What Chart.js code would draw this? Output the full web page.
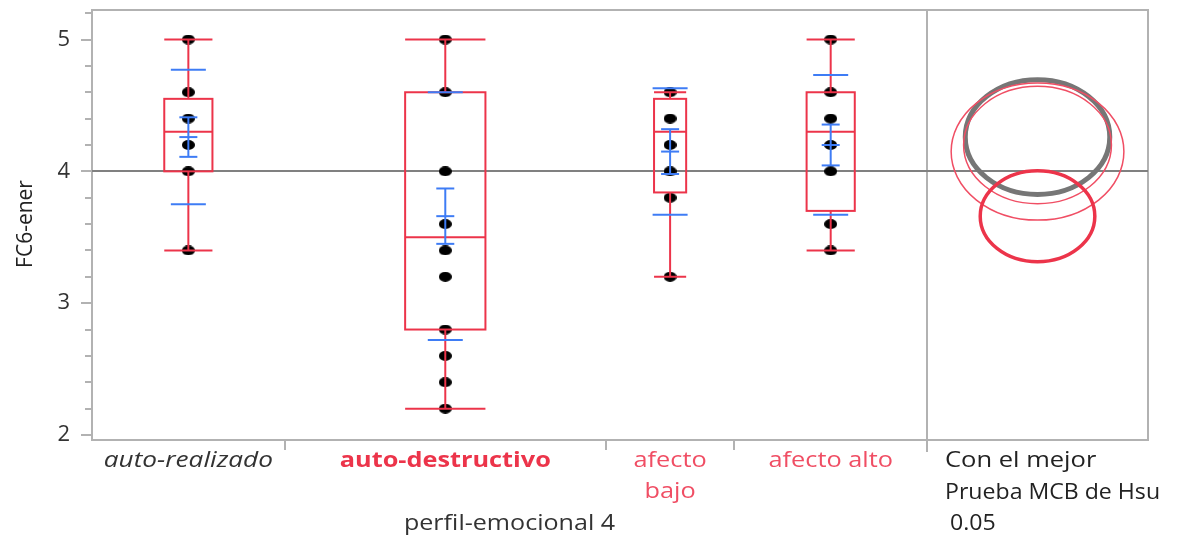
<!DOCTYPE html>
<html lang="es">
<head>
    <meta charset="UTF-8">
    <title>FC6-ener por perfil-emocional 4</title>
    <style>
        body {
            margin: 0;
            background-color: #ffffff;
        }
        #wrap {
            width: 1185px;
            height: 541px;
        }
    </style>
    <script src="https://cdn.jsdelivr.net/npm/chart.js"></script>
</head>
<body>
    <div id="wrap">
        <canvas id="oneway" width="1185" height="541"></canvas>
    </div>

    <script>
        // Datos
        var categories = ['auto-realizado', 'auto-destructivo', ['afecto', 'bajo'], 'afecto alto'];

        var ptsAutoRealizado = [5.0, 4.6, 4.4, 4.2, 4.0, 3.4];
        var ptsAutoDestructivo = [5.0, 4.6, 4.0, 3.6, 3.4, 3.2, 2.8, 2.6, 2.4, 2.2];
        var ptsAfectoBajo = [4.6, 4.4, 4.2, 4.0, 3.8, 3.2];
        var ptsAfectoAlto = [5.0, 4.6, 4.4, 4.2, 4.0, 3.6, 3.4];

        var whiskerLow = [3.4, 2.2, 3.2, 3.4];
        var quartile1 = [4.0, 2.8, 3.84, 3.7];
        var medians = [4.3, 3.5, 4.3, 4.3];
        var quartile3 = [4.55, 4.6, 4.55, 4.6];
        var whiskerHigh = [5.0, 5.0, 4.6, 5.0];

        var means = [4.26, 3.66, 4.15, 4.2];
        var stdErr = [0.15, 0.21, 0.17, 0.155];
        var stdDev = [0.51, 0.94, 0.48, 0.53];
        var grandMean = 4.0;

        // radios de los circulos de comparacion (Hsu MCB, alfa 0.05)
        var circleRadius = [0.435, 0.345, 0.52, 0.445];

        var yTicks = [2, 3, 4, 5];

        // Disposicion (anchos de grupo proporcionales, como en JMP)
        var groupWidth = [6, 10, 4, 6];
        var panelWidth = 6.88;
        var RED = 'rgb(236, 52, 74)';
        var RED_LIGHT = 'rgb(240, 78, 100)';
        var BLUE = 'rgb(62, 124, 245)';
        var FRAME = 'rgb(178, 178, 178)';
        var FONT = '"Open Sans", "Noto Sans", sans-serif';

        var groupStart = [];
        var acc = 0;
        for (var i = 0; i < groupWidth.length; i++) {
            groupStart.push(acc);
            acc += groupWidth[i];
        }
        var groupsEnd = acc;
        var groupCenter = groupStart.map(function (s, i) { return s + groupWidth[i] / 2; });
        var panelCenter = groupsEnd + panelWidth / 2;

        var allPoints = [ptsAutoRealizado, ptsAutoDestructivo, ptsAfectoBajo, ptsAfectoAlto];

        // punto negro ligeramente ovalado
        var dot = document.createElement('canvas');
        dot.width = 13;
        dot.height = 10;
        var dctx = dot.getContext('2d');
        dctx.fillStyle = '#000000';
        dctx.beginPath();
        dctx.ellipse(6.5, 5, 6.5, 5, 0, 0, Math.PI * 2);
        dctx.fill();

        var datasets = allPoints.map(function (vals, g) {
            return {
                label: Array.isArray(categories[g]) ? categories[g].join(' ') : categories[g],
                data: vals.map(function (v) { return { x: groupCenter[g], y: v }; }),
                pointStyle: dot,
                pointRadius: 5,
                showLine: false
            };
        });

        function line(ctx, x1, y1, x2, y2) {
            ctx.beginPath();
            ctx.moveTo(x1, y1);
            ctx.lineTo(x2, y2);
            ctx.stroke();
        }

        // marco, linea de media global, ticks y separadores
        var backPlugin = {
            id: 'backMarks',
            beforeDatasetsDraw: function (chart) {
                var ctx = chart.ctx;
                var xs = chart.scales.x, ys = chart.scales.y;
                var a = chart.chartArea;
                ctx.save();
                ctx.strokeStyle = FRAME;
                ctx.lineWidth = 2;
                ctx.strokeRect(a.left, a.top, a.right - a.left, a.bottom - a.top);

                // ticks del eje y (mayores y menores)
                for (var v = 2; v <= 5.2001; v += 0.2) {
                    var py = Math.round(ys.getPixelForValue(v));
                    var major = Math.abs(v - Math.round(v)) < 0.001;
                    line(ctx, a.left - (major ? 11 : 7), py, a.left, py);
                }
                // separadores de grupo en el eje x
                for (var g = 1; g < groupStart.length; g++) {
                    var px = Math.round(xs.getPixelForValue(groupStart[g]));
                    line(ctx, px, a.bottom, px, a.bottom + 10);
                }
                var sep = Math.round(xs.getPixelForValue(groupsEnd));
                line(ctx, sep, a.top, sep, a.bottom + 12);

                // media global
                ctx.strokeStyle = 'rgb(128, 128, 128)';
                var gy = Math.round(ys.getPixelForValue(grandMean));
                line(ctx, a.left, gy, a.right, gy);
                ctx.restore();
            }
        };

        // cajas, bigotes, barras de error y circulos de comparacion
        var frontPlugin = {
            id: 'frontMarks',
            afterDatasetsDraw: function (chart) {
                var ctx = chart.ctx;
                var xs = chart.scales.x, ys = chart.scales.y;
                ctx.save();
                for (var g = 0; g < categories.length; g++) {
                    var cx = xs.getPixelForValue(groupCenter[g]);
                    var half = xs.getPixelForValue(groupCenter[g] + groupWidth[g] * 0.125) - cx;
                    var yq1 = ys.getPixelForValue(quartile1[g]);
                    var yq3 = ys.getPixelForValue(quartile3[g]);
                    var ymed = ys.getPixelForValue(medians[g]);
                    var ylo = ys.getPixelForValue(whiskerLow[g]);
                    var yhi = ys.getPixelForValue(whiskerHigh[g]);

                    ctx.strokeStyle = RED;
                    ctx.lineWidth = 2;
                    line(ctx, cx, yhi, cx, yq3);
                    line(ctx, cx, yq1, cx, ylo);
                    line(ctx, cx - half, yhi, cx + half, yhi);
                    line(ctx, cx - half, ylo, cx + half, ylo);
                    ctx.strokeRect(cx - half, yq3, half * 2, yq1 - yq3);
                    line(ctx, cx - half, ymed, cx + half, ymed);

                    // media, error estandar y desviacion estandar
                    var ym = ys.getPixelForValue(means[g]);
                    var yseHi = ys.getPixelForValue(means[g] + stdErr[g]);
                    var yseLo = ys.getPixelForValue(means[g] - stdErr[g]);
                    var ysdHi = ys.getPixelForValue(means[g] + stdDev[g]);
                    var ysdLo = ys.getPixelForValue(means[g] - stdDev[g]);
                    ctx.strokeStyle = BLUE;
                    line(ctx, cx, yseHi, cx, yseLo);
                    line(ctx, cx - 9, yseHi, cx + 9, yseHi);
                    line(ctx, cx - 9, yseLo, cx + 9, yseLo);
                    line(ctx, cx - 9, ym, cx + 9, ym);
                    line(ctx, cx - 17.5, ysdHi, cx + 17.5, ysdHi);
                    line(ctx, cx - 17.5, ysdLo, cx + 17.5, ysdLo);
                }

                // circulos de comparacion: el mejor en gris, el resto en rojo
                var pcx = xs.getPixelForValue(panelCenter);
                var order = [0, 3, 2, 1];
                order.forEach(function (g) {
                    var cy = ys.getPixelForValue(means[g]);
                    var ry = Math.abs(ys.getPixelForValue(means[g] + circleRadius[g]) - cy);
                    var rx = ry * 1.26;
                    if (g === 0) {
                        ctx.strokeStyle = 'rgb(118, 118, 118)';
                        ctx.lineWidth = 5;
                    } else if (g === 1) {
                        ctx.strokeStyle = RED;
                        ctx.lineWidth = 3.5;
                    } else {
                        ctx.strokeStyle = RED_LIGHT;
                        ctx.lineWidth = 1.5;
                    }
                    ctx.beginPath();
                    ctx.ellipse(pcx, cy, rx, ry, 0, 0, Math.PI * 2);
                    ctx.stroke();
                });
                ctx.restore();
            }
        };

        // textos del eje x, titulo y panel derecho
        var textPlugin = {
            id: 'labels',
            afterDraw: function (chart) {
                var ctx = chart.ctx;
                var xs = chart.scales.x;

                function txt(s, x, y, font, color, align, sx) {
                    ctx.save();
                    ctx.font = font;
                    ctx.fillStyle = color;
                    ctx.textAlign = align || 'center';
                    ctx.textBaseline = 'middle';
                    ctx.translate(x, y);
                    ctx.scale(sx || 1.15, 1);
                    ctx.fillText(s, 0, 0);
                    ctx.restore();
                }

                var styles = [
                    { font: 'italic 22px ' + FONT, color: '#333333', sx: 1.19 },
                    { font: 'bold 22px ' + FONT, color: RED, sx: 1.15 },
                    { font: '22px ' + FONT, color: RED_LIGHT, sx: 1.15 },
                    { font: '22px ' + FONT, color: RED_LIGHT, sx: 1.15 }
                ];
                for (var g = 0; g < categories.length; g++) {
                    var cx = xs.getPixelForValue(groupCenter[g]);
                    var lines = Array.isArray(categories[g]) ? categories[g] : [categories[g]];
                    lines.forEach(function (s, k) {
                        txt(s, cx, 461 + k * 31, styles[g].font, styles[g].color, 'center', styles[g].sx);
                    });
                }
                var midGroups = (xs.getPixelForValue(0) + xs.getPixelForValue(groupsEnd)) / 2;
                txt('perfil-emocional 4', midGroups, 524, '22px ' + FONT, '#333333', 'center', 1.14);

                var px = xs.getPixelForValue(groupsEnd) + 18;
                txt('Con el mejor', px, 461, '22px ' + FONT, '#222222', 'left', 1.16);
                txt('Prueba MCB de Hsu', px, 493, '22px ' + FONT, '#222222', 'left', 1.05);
                txt('0.05', px + 5, 524, '22px ' + FONT, '#222222', 'left', 1.05);

                ctx.save();
                ctx.font = '21px ' + FONT;
                ctx.fillStyle = '#222222';
                ctx.textAlign = 'center';
                ctx.textBaseline = 'middle';
                ctx.translate(26, 224);
                ctx.rotate(-Math.PI / 2);
                ctx.fillText('FC6-ener', 0, 0);
                ctx.restore();
            }
        };

        var ctxOneway = document.getElementById('oneway').getContext('2d');
        var onewayChart = new Chart(ctxOneway, {
            type: 'scatter',
            data: { datasets: datasets },
            options: {
                responsive: false,
                animation: false,
                events: [],
                layout: {
                    padding: { left: 0, right: 37, top: 10, bottom: 0 }
                },
                plugins: {
                    legend: { display: false },
                    tooltip: { enabled: false }
                },
                scales: {
                    x: {
                        type: 'linear',
                        min: 0,
                        max: groupsEnd + panelWidth,
                        grid: { display: false },
                        border: { display: false },
                        ticks: { display: false },
                        afterFit: function (s) {
                            s.height = 101;
                            s.paddingLeft = 0;
                            s.paddingRight = 0;
                        }
                    },
                    y: {
                        type: 'linear',
                        min: 1.962,
                        max: 5.224,
                        grid: { display: false },
                        border: { display: false },
                        afterBuildTicks: function (s) {
                            s.ticks = yTicks.map(function (v) { return { value: v }; });
                        },
                        ticks: {
                            padding: 14,
                            color: '#333333',
                            font: { size: 22, family: FONT },
                            callback: function (v) { return v; }
                        },
                        afterFit: function (s) {
                            s.width = 92;
                            s.paddingTop = 0;
                            s.paddingBottom = 0;
                        }
                    }
                }
            },
            plugins: [backPlugin, frontPlugin, textPlugin]
        });
    </script>
</body>
</html>
